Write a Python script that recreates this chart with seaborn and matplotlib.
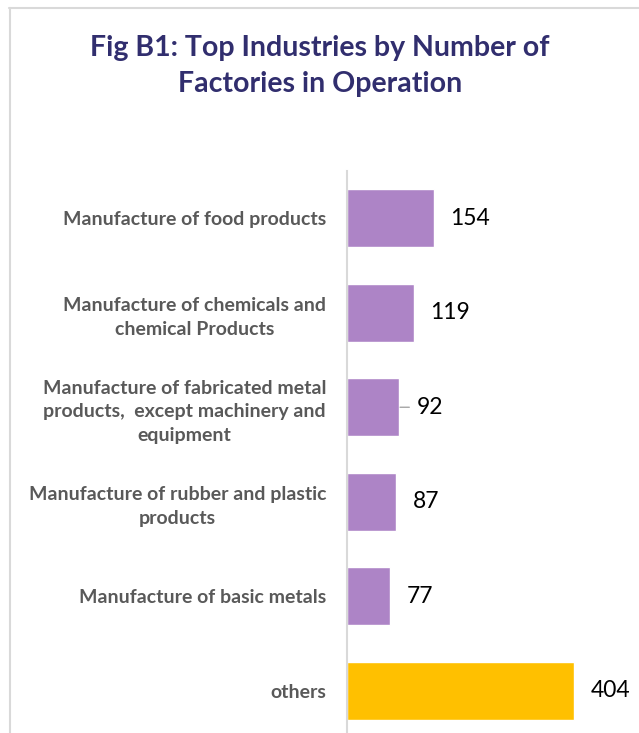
import matplotlib
matplotlib.use("Agg")
import matplotlib.pyplot as plt
from matplotlib.lines import Line2D
import seaborn as sns
import pandas as pd

categories = [
    "Manufacture of food products",
    "Manufacture of chemicals and\nchemical Products",
    "Manufacture of fabricated metal\nproducts,  except machinery and\nequipment",
    "Manufacture of rubber and plastic\nproducts",
    "Manufacture of basic metals",
    "others",
]
factories = [154, 119, 92, 87, 77, 404]
bar_colors = ["#AD84C6", "#AD84C6", "#AD84C6", "#AD84C6", "#AD84C6", "#FFC000"]
title = "Fig B1: Top Industries by Number of\nFactories in Operation"

sns.set_theme(style="white")
plt.rcParams["font.family"] = ["Lato", "DejaVu Sans"]

W, H = 639, 733
fig = plt.figure(figsize=(W / 100, H / 100), dpi=100)
fig.patch.set_facecolor("white")

# chart frame (top and left edges visible)
frame_c = "#D9D9D9"
fig.add_artist(Line2D([9 / W, 1.0], [1 - 8 / H, 1 - 8 / H], color=frame_c, lw=1.5,
                      transform=fig.transFigure))
fig.add_artist(Line2D([10 / W, 10 / W], [0, 1 - 8 / H], color=frame_c, lw=1.5,
                      transform=fig.transFigure))

ax_left, ax_right = 347 / W, 632 / W
ax_top, ax_bottom = 1 - 171 / H, 1 - 738 / H
ax = fig.add_axes([ax_left, ax_bottom, ax_right - ax_left, ax_top - ax_bottom])
ax.set_facecolor("none")

df = pd.DataFrame({"category": categories, "count": factories})
sns.barplot(data=df, x="count", y="category", hue="category",
            palette=bar_colors, legend=False, width=0.61, saturation=1,
            orient="h", ax=ax)

px_per_unit = (575 - 348) / 404
ax.set_xlim(0, (632 - 347) / px_per_unit)
ax.set_ylim(len(categories) - 0.5, -0.5)

for s in ["top", "right", "bottom"]:
    ax.spines[s].set_visible(False)
ax.spines["left"].set_color("#D9D9D9")
ax.spines["left"].set_linewidth(1.5)
ax.spines["left"].set_clip_on(False)

ax.set_xticks([])
ax.set_xlabel("")
ax.set_ylabel("")
ax.tick_params(axis="y", length=0, pad=15)
for lbl in ax.get_yticklabels():
    lbl.set_fontsize(14)
    lbl.set_fontweight("bold")
    lbl.set_color("#595959")
    lbl.set_multialignment("center")
    lbl.set_linespacing(1.45)

# value labels
for i, v in enumerate(factories):
    if v == 92:
        ax.annotate(str(v), xy=(v, i), xytext=(13, 0), textcoords="offset points",
                    ha="left", va="center", fontsize=16.5, color="black",
                    arrowprops=dict(arrowstyle="-", color="#A6A6A6", lw=1,
                                    shrinkA=3, shrinkB=1))
    else:
        ax.annotate(str(v), xy=(v, i), xytext=(12, 0), textcoords="offset points",
                    ha="left", va="center", fontsize=16.5, color="black")

fig.text(320 / W, 1 - 66 / H, title, ha="center", va="center", fontsize=20.5,
         fontweight="bold", color="#312E6E", linespacing=1.45)

fig.savefig("out.png", dpi=100, facecolor="white")
